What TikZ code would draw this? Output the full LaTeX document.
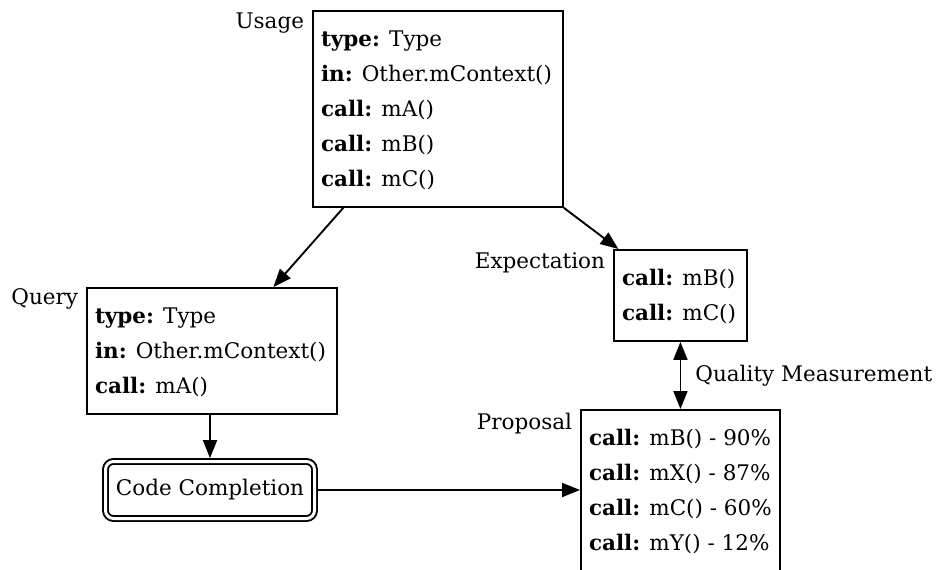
\documentclass[tikz,border=0pt]{standalone}
\usepackage{fontspec}
\setmainfont{DejaVu Serif}
\usetikzlibrary{arrows.meta,calc}

\begin{document}
\begin{tikzpicture}[x=1pt,y=-1pt,
  >={Triangle[length=18pt,width=14pt]},
  txt/.style={font=\fontsize{21.5}{35}\selectfont, inner sep=0pt, outer sep=0pt},
  box/.style={draw, line width=1.9pt, rectangle, anchor=north west, inner sep=0pt},
  entry/.style={txt, anchor=base west},
  tag/.style={txt, anchor=base east},
  link/.style={line width=1.9pt, ->},
]
\useasboundingbox (0,0) rectangle (940,570);

% the four record boxes
\node[box, minimum width=250pt, minimum height=196pt] (usage) at (312,10) {};
\node[box, minimum width=250pt, minimum height=126pt] (query) at (86,287) {};
\node[box, minimum width=133pt, minimum height=91pt]  (expect) at (613,249) {};
\node[box, minimum width=199pt, minimum height=162pt] (proposal) at (580,409) {};

% box titles
\node[tag] (usage-tag)    at ($(usage.north west)+(-8,18)$)    {Usage};
\node[tag] (query-tag)    at ($(query.north west)+(-8,17)$)    {Query};
\node[tag] (expect-tag)   at ($(expect.north west)+(-8,19)$)   {Expectation};
\node[tag] (proposal-tag) at ($(proposal.north west)+(-8,20)$) {Proposal};

% box contents
\foreach \t [count=\i from 0] in {{\textbf{type:} Type},{\textbf{in:} Other.mContext()},{\textbf{call:} mA()},{\textbf{call:} mB()},{\textbf{call:} mC()}}
  \node[entry] (usage-l\i) at ($(usage.north west)+(9,36+35*\i)$) {\t};
\foreach \t [count=\i from 0] in {{\textbf{type:} Type},{\textbf{in:} Other.mContext()},{\textbf{call:} mA()}}
  \node[entry] (query-l\i) at ($(query.north west)+(9,36+35*\i)$) {\t};
\foreach \t [count=\i from 0] in {{\textbf{call:} mB()},{\textbf{call:} mC()}}
  \node[entry] (expect-l\i) at ($(expect.north west)+(9,36+35*\i)$) {\t};
\foreach \t [count=\i from 0] in {{\textbf{call:} mB() - 90\%},{\textbf{call:} mX() - 87\%},{\textbf{call:} mC() - 60\%},{\textbf{call:} mY() - 12\%}}
  \node[entry] (proposal-l\i) at ($(proposal.north west)+(9,36+35*\i)$) {\t};

% the completion engine
\node[txt, draw, double, double distance=3pt, line width=1.9pt, rounded corners=8pt,
      minimum width=209pt, minimum height=57pt, outer sep=3.4pt] (cc) at (210,490) {Code Completion};

% connectors
\draw[link] ($(usage.south west)!0.124!(usage.south east)$) -- ($(query.north west)!0.744!(query.north east)$);
\draw[link] (usage.south east) -- ($(expect.north west)!0.04!(expect.north east)$);
\draw[link] (cc.north |- query.south) -- (cc.north);
\draw[link] (cc.east) -- (cc.east -| proposal.west);
\draw[link, <->] (expect.south) -- (proposal.north);
\node[txt, anchor=base west] (quality) at ($(expect.south)!0.5!(proposal.north)+(15,6)$) {Quality Measurement};
\end{tikzpicture}
\end{document}
